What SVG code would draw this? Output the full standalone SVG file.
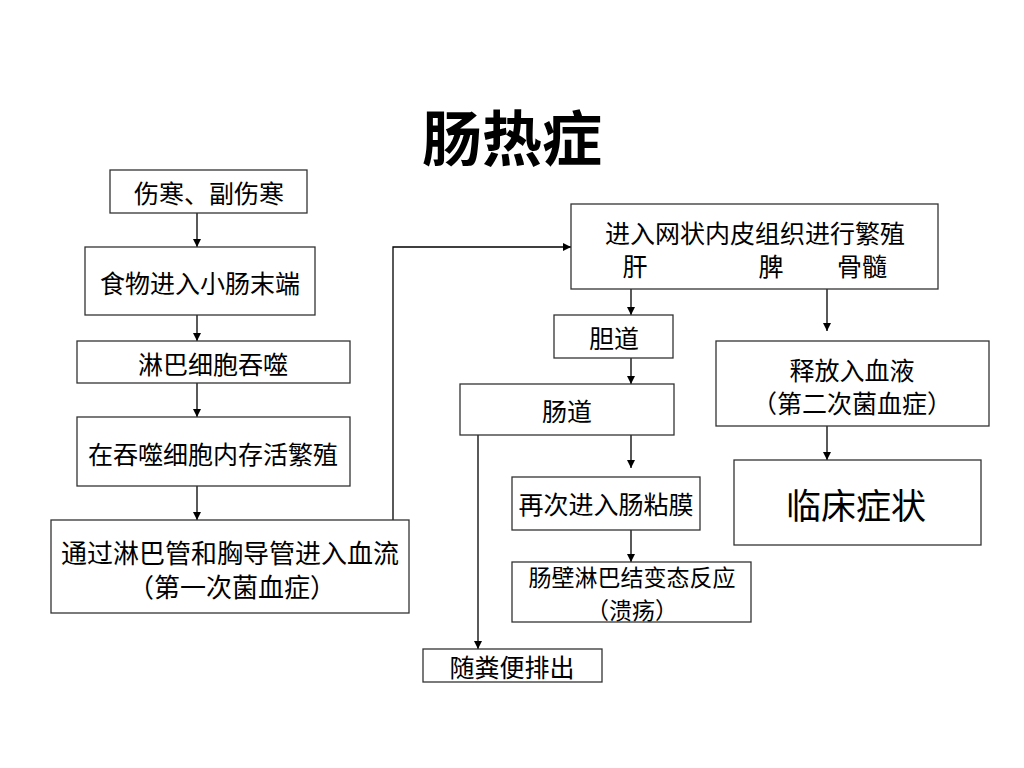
<svg xmlns="http://www.w3.org/2000/svg" width="1024" height="768" viewBox="0 0 1024 768">
<defs>
<style>
.box{fill:#fff;stroke:#333;stroke-width:1.3}
.t{font-family:"Noto Sans CJK SC","Noto Sans",sans-serif;font-size:25px;fill:#000;text-anchor:middle;dominant-baseline:central}
.c{fill:none;stroke:#000;stroke-width:1.3}
</style>
<marker id="ah" viewBox="0 0 10 10" refX="10" refY="5" markerWidth="8" markerHeight="8" markerUnits="userSpaceOnUse" orient="auto">
<path d="M0,0 L10,5 L0,10 z" fill="#000"/>
</marker>
</defs>
<rect width="1024" height="768" fill="#fff"/>
<text x="512" y="134" class="t" style="font-size:60px;font-weight:bold">肠热症</text>

<g id="connectors">
<line class="c" x1="197" y1="213" x2="197" y2="247" marker-end="url(#ah)"/>
<line class="c" x1="197" y1="315" x2="197" y2="341" marker-end="url(#ah)"/>
<line class="c" x1="197" y1="383" x2="197" y2="417" marker-end="url(#ah)"/>
<line class="c" x1="197" y1="486" x2="197" y2="520" marker-end="url(#ah)"/>
<polyline class="c" points="393,520 393,247 571,247" marker-end="url(#ah)"/>
<line class="c" x1="631" y1="289" x2="631" y2="315" marker-end="url(#ah)"/>
<line class="c" x1="631" y1="358" x2="631" y2="384" marker-end="url(#ah)"/>
<line class="c" x1="827" y1="289" x2="827" y2="331" marker-end="url(#ah)"/>
<line class="c" x1="631" y1="435" x2="631" y2="468" marker-end="url(#ah)"/>
<line class="c" x1="478" y1="435" x2="478" y2="649" marker-end="url(#ah)"/>
<line class="c" x1="631" y1="530" x2="631" y2="562" marker-end="url(#ah)"/>
<line class="c" x1="827" y1="426" x2="827" y2="460" marker-end="url(#ah)"/>
</g>

<g id="n1"><rect class="box" x="110" y="170" width="197" height="43"/><text class="t" x="209" y="192">伤寒、副伤寒</text></g>
<g id="n2"><rect class="box" x="85" y="247" width="230" height="68"/><text class="t" x="200" y="282">食物进入小肠末端</text></g>
<g id="n3"><rect class="box" x="77" y="341" width="273" height="42"/><text class="t" x="213" y="363">淋巴细胞吞噬</text></g>
<g id="n4"><rect class="box" x="77" y="417" width="273" height="69"/><text class="t" x="213" y="453">在吞噬细胞内存活繁殖</text></g>
<g id="n5"><rect class="box" x="51" y="520" width="358" height="93"/><text class="t" x="230" y="551" style="font-size:26px">通过淋巴管和胸导管进入血流</text><text class="t" x="232" y="585" style="font-size:26px">（第一次菌血症）</text></g>
<g id="n6"><rect class="box" x="571" y="204" width="367" height="85"/><text class="t" x="755" y="232">进入网状内皮组织进行繁殖</text><text class="t" x="635" y="265">肝</text><text class="t" x="771" y="265">脾</text><text class="t" x="862" y="265">骨髓</text></g>
<g id="n7"><rect class="box" x="554" y="315" width="119" height="43"/><text class="t" x="614" y="337">胆道</text></g>
<g id="n8"><rect class="box" x="460" y="384" width="214" height="51"/><text class="t" x="567" y="410">肠道</text></g>
<g id="n9"><rect class="box" x="716" y="341" width="273" height="85"/><text class="t" x="852" y="369">释放入血液</text><text class="t" x="852" y="402">（第二次菌血症）</text></g>
<g id="n10"><rect class="box" x="734" y="460" width="247" height="85"/><text class="t" x="856" y="503" style="font-size:35px">临床症状</text></g>
<g id="n11"><rect class="box" x="512" y="477" width="188" height="53"/><text class="t" x="606" y="503">再次进入肠粘膜</text></g>
<g id="n12"><rect class="box" x="512" y="562" width="239" height="60"/><text class="t" x="632" y="576" style="font-size:23px">肠壁淋巴结变态反应</text><text class="t" x="632" y="609" style="font-size:23px">（溃疡）</text></g>
<g id="n13"><rect class="box" x="423" y="649" width="179" height="33"/><text class="t" x="512" y="666">随粪便排出</text></g>
</svg>
